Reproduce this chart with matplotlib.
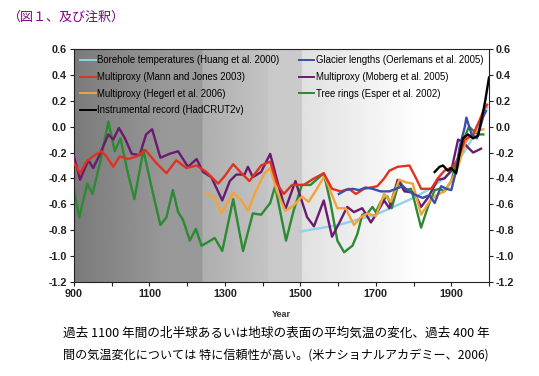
import numpy as np
import matplotlib
matplotlib.use("Agg")
import matplotlib.pyplot as plt

plt.rcParams['font.family'] = ['Liberation Sans', 'DejaVu Sans']

# --- data (year, anomaly degC) ---
bore_yr = [1500, 1600, 1700, 1800, 1850, 1900, 1950, 1975, 1995]
bore_val = [-0.81, -0.76, -0.68, -0.55, -0.47, -0.35, -0.12, 0.02, 0.15]

mann_yr = [900, 916, 933, 955, 973, 986, 1004, 1021, 1043, 1066, 1089, 1118, 1145, 1171,
           1198, 1225, 1251, 1282, 1300, 1322, 1344, 1365, 1396, 1420, 1438, 1456, 1478,
           1509, 1536, 1562, 1584, 1607, 1629, 1647, 1669, 1704, 1722, 1736, 1758, 1789,
           1807, 1820, 1847, 1864, 1882, 1904, 1918, 1936, 1958, 1975, 1988, 1995]
mann_val = [-0.28, -0.36, -0.27, -0.22, -0.19, -0.23, -0.31, -0.23, -0.25, -0.23, -0.18,
            -0.28, -0.36, -0.26, -0.32, -0.30, -0.35, -0.44, -0.38, -0.29, -0.36, -0.42,
            -0.30, -0.27, -0.44, -0.52, -0.45, -0.45, -0.40, -0.36, -0.48, -0.50, -0.48,
            -0.52, -0.48, -0.46, -0.40, -0.34, -0.31, -0.30, -0.40, -0.48, -0.48, -0.40,
            -0.34, -0.31, -0.25, -0.10, -0.06, 0.05, 0.14, 0.17]

hegerl_yr = [1250, 1273, 1291, 1308, 1323, 1344, 1361, 1383, 1405, 1420, 1438, 1460, 1482,
             1504, 1522, 1544, 1564, 1580, 1598, 1620, 1642, 1660, 1678, 1700, 1722, 1740,
             1762, 1780, 1798, 1820, 1842, 1860, 1882, 1900, 1918, 1936, 1953, 1971, 1985]
hegerl_val = [-0.51, -0.55, -0.67, -0.58, -0.51, -0.57, -0.65, -0.49, -0.36, -0.32, -0.50,
              -0.65, -0.61, -0.54, -0.58, -0.48, -0.38, -0.50, -0.63, -0.63, -0.76, -0.70,
              -0.67, -0.69, -0.52, -0.58, -0.41, -0.43, -0.44, -0.68, -0.58, -0.53, -0.50,
              -0.42, -0.31, -0.13, -0.06, -0.03, -0.02]

hadcrut_yr = [1856, 1869, 1878, 1891, 1900, 1913, 1922, 1931, 1944, 1958, 1971, 1982, 1990, 2000]
hadcrut_val = [-0.35, -0.31, -0.30, -0.34, -0.32, -0.36, -0.21, -0.09, -0.06, -0.09, -0.07,
               0.08, 0.20, 0.38]

glacier_yr = [1602, 1620, 1638, 1656, 1673, 1691, 1713, 1736, 1753, 1771, 1789, 1807, 1824,
              1842, 1856, 1873, 1887, 1900, 1913, 1922, 1936, 1940, 1954, 1968, 1985, 1992]
glacier_val = [-0.52, -0.49, -0.48, -0.49, -0.47, -0.48, -0.50, -0.50, -0.48, -0.46, -0.50,
               -0.53, -0.55, -0.53, -0.59, -0.46, -0.48, -0.49, -0.34, -0.16, 0.00, 0.07,
               -0.06, -0.09, 0.08, 0.12]

moberg_yr = [900, 916, 938, 951, 969, 991, 1004, 1019, 1035, 1053, 1074, 1091, 1107, 1129,
             1153, 1176, 1202, 1225, 1242, 1264, 1293, 1313, 1330, 1352, 1361, 1374, 1396,
             1420, 1438, 1460, 1487, 1500, 1518, 1536, 1562, 1584, 1602, 1624, 1642, 1664,
             1687, 1700, 1722, 1736, 1758, 1776, 1802, 1820, 1838, 1864, 1882, 1900, 1918,
             1931, 1944, 1958, 1979]
moberg_val = [-0.23, -0.41, -0.26, -0.32, -0.21, -0.06, -0.10, -0.01, -0.09, -0.21, -0.22,
              -0.06, -0.02, -0.24, -0.21, -0.19, -0.31, -0.25, -0.35, -0.39, -0.57, -0.42,
              -0.37, -0.37, -0.31, -0.39, -0.35, -0.21, -0.41, -0.64, -0.42, -0.54, -0.70,
              -0.77, -0.57, -0.85, -0.75, -0.62, -0.66, -0.63, -0.74, -0.68, -0.57, -0.63,
              -0.41, -0.50, -0.51, -0.62, -0.55, -0.41, -0.40, -0.34, -0.10, -0.12, -0.16,
              -0.20, -0.17]

esper_yr = [900, 914, 935, 949, 969, 991, 1008, 1023, 1043, 1060, 1084, 1105, 1129, 1145,
            1162, 1176, 1189, 1207, 1223, 1238, 1256, 1273, 1293, 1322, 1348, 1374, 1396,
            1420, 1433, 1462, 1482, 1504, 1527, 1562, 1580, 1598, 1616, 1638, 1651, 1664,
            1678, 1691, 1700, 1713, 1731, 1742, 1762, 1780, 1793, 1802, 1820, 1838, 1856,
            1869, 1882, 1900, 1913, 1931, 1947, 1958, 1970, 1985]
esper_val = [-0.49, -0.70, -0.44, -0.52, -0.28, 0.04, -0.19, -0.09, -0.36, -0.56, -0.18,
             -0.46, -0.76, -0.70, -0.49, -0.66, -0.72, -0.88, -0.79, -0.92, -0.89, -0.86,
             -0.96, -0.56, -0.96, -0.67, -0.68, -0.59, -0.46, -0.88, -0.65, -0.45, -0.45,
             -0.36, -0.59, -0.88, -0.97, -0.92, -0.83, -0.68, -0.67, -0.62, -0.66, -0.58,
             -0.54, -0.63, -0.42, -0.49, -0.48, -0.57, -0.78, -0.62, -0.49, -0.48, -0.50,
             -0.42, -0.28, -0.11, 0.00, -0.03, -0.06, -0.06]

series = [
    ("Borehole temperatures (Huang et al. 2000)", bore_yr, bore_val, "#8fd3e6"),
    ("Multiproxy (Mann and Jones 2003)", mann_yr, mann_val, "#e2321f"),
    ("Multiproxy (Hegerl et al. 2006)", hegerl_yr, hegerl_val, "#f4a23a"),
    ("Instrumental record (HadCRUT2v)", hadcrut_yr, hadcrut_val, "#000000"),
    ("Glacier lengths (Oerlemans et al. 2005)", glacier_yr, glacier_val, "#3a4fa6"),
    ("Multiproxy (Moberg et al. 2005)", moberg_yr, moberg_val, "#6b1b6e"),
    ("Tree rings (Esper et al. 2002)", esper_yr, esper_val, "#2b8a32"),
]
zorders = [2, 5, 4, 8, 6, 3, 2.5]

fig = plt.figure(figsize=(5.39, 3.76), dpi=100)
ax = fig.add_axes([74 / 539, 1 - 282 / 376, 415 / 539, 233 / 376])

# background shading (dark on the left fading to white)
gx = np.arange(900, 2001)
gray = np.interp(gx, [900, 1150, 1151, 1240, 1241, 1414, 1415, 1504, 1505, 1820],
                 [0.48, 0.60, 0.60, 0.60, 0.68, 0.77, 0.79, 0.79, 0.88, 1.0])
ax.imshow(np.tile(gray, (2, 1)), cmap="gray", vmin=0, vmax=1, aspect="auto",
          extent=[900, 2000, -1.2, 0.6], zorder=0, interpolation="bilinear")

for (lab, yr, val, col), z in zip(series, zorders):
    ax.plot(yr, val, color=col, lw=1.7, label=lab, zorder=z, solid_joinstyle="round")

ax.set_xlim(900, 2000)
ax.set_ylim(-1.2, 0.6)
ax.set_xticks(range(900, 2001, 100))
ax.set_xticklabels([str(y) if (y - 900) % 200 == 0 else "" for y in range(900, 2001, 100)])
yt = [-1.2, -1.0, -0.8, -0.6, -0.4, -0.2, 0.0, 0.2, 0.4, 0.6]
ax.set_yticks(yt)
ax.set_yticklabels([f"{v:.1f}" for v in yt])
ax.tick_params(direction="out", length=3, width=0.8, labelsize=7.8, colors="#222222",
               right=True, labelright=True, pad=2)
for s in ax.spines.values():
    s.set_color("#222222")
    s.set_linewidth(0.8)
for t in ax.get_xticklabels() + ax.get_yticklabels():
    t.set_fontweight("bold")
ax.set_xlabel("Year", fontsize=6.5, fontweight="bold", color="#333333", labelpad=8)

leg = ax.legend(ncol=2, loc="upper left", bbox_to_anchor=(0.0, 1.0), frameon=False,
                fontsize=6.9, handlelength=1.6, handletextpad=0.2, columnspacing=2.0,
                labelspacing=0.7, borderaxespad=0.25)
for h in leg.get_lines():
    h.set_linewidth(1.4)

cjk = ['Noto Sans CJK JP', 'DejaVu Sans']
fig.text(8 / 539, 1 - 17 / 376, "（図１、及び注釈）", color="#800080", fontsize=9.4,
         family=cjk, va="center", ha="left")
fig.text(63 / 539, 1 - 333 / 376,
         "過去 1100 年間の北半球あるいは地球の表面の平均気温の変化、過去 400 年",
         fontsize=9.1, family=cjk, va="center", ha="left")
fig.text(63 / 539, 1 - 356 / 376,
         "間の気温変化については 特に信頼性が高い。(米ナショナルアカデミー、2006)",
         fontsize=8.7, family=cjk, va="center", ha="left")

fig.savefig("out.png", dpi=100)
